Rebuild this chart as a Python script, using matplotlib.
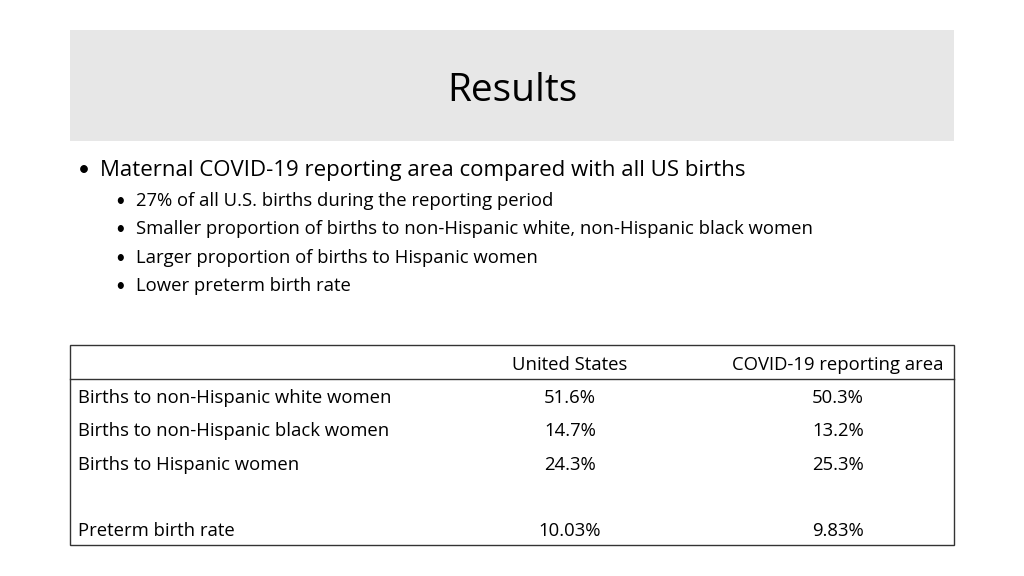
import matplotlib
matplotlib.use('Agg')
import matplotlib.pyplot as plt
from matplotlib.patches import Rectangle

plt.rcParams['font.family'] = ['Open Sans', 'DejaVu Sans']

title = 'Results'
main_bullet = 'Maternal COVID-19 reporting area compared with all US births'
sub_bullets = ['27% of all U.S. births during the reporting period',
               'Smaller proportion of births to non-Hispanic white, non-Hispanic black women',
               'Larger proportion of births to Hispanic women',
               'Lower preterm birth rate']

col_headers = ['United States', 'COVID-19 reporting area']
row_labels = ['Births to non-Hispanic white women',
              'Births to non-Hispanic black women',
              'Births to Hispanic women',
              '',
              'Preterm birth rate']
us_values = ['51.6%', '14.7%', '24.3%', '', '10.03%']
covid_values = ['50.3%', '13.2%', '25.3%', '', '9.83%']

fig = plt.figure(figsize=(10.24, 5.76), dpi=100)
ax = fig.add_axes([0, 0, 1, 1])
ax.set_xlim(0, 1024)
ax.set_ylim(576, 0)
ax.axis('off')

# title band
ax.add_patch(Rectangle((70, 30), 884, 111, facecolor='#e7e7e7', edgecolor='none'))
ax.text(512, 101, title, fontsize=28, ha='center', va='baseline', color='black')

# bullets
fs_main = 16
fs_sub = 13.35
ax.text(78, 176, '•', fontsize=15, va='baseline', family='Lato')
ax.text(100, 176, main_bullet, fontsize=fs_main, va='baseline')
y = 206
for b in sub_bullets:
    ax.text(115, y, '•', fontsize=12, va='baseline', family='Lato')
    ax.text(136, y, b, fontsize=fs_sub, va='baseline')
    y += 28.3

# table
fs_tab = 13.35
ax.add_patch(Rectangle((70, 345), 884, 200, facecolor='none', edgecolor='#333333', lw=1))
ax.plot([70, 954], [379, 379], color='#333333', lw=1)
ax.text(570, 370, col_headers[0], fontsize=fs_tab, ha='center', va='baseline')
ax.text(838, 370, col_headers[1], fontsize=fs_tab, ha='center', va='baseline')
row_y = [403, 436, 470, 503, 536]
for lab, us, cv, ry in zip(row_labels, us_values, covid_values, row_y):
    ax.text(78, ry, lab, fontsize=fs_tab, va='baseline')
    ax.text(570, ry, us, fontsize=fs_tab, ha='center', va='baseline')
    ax.text(838, ry, cv, fontsize=fs_tab, ha='center', va='baseline')

fig.savefig('out.png', dpi=100)
